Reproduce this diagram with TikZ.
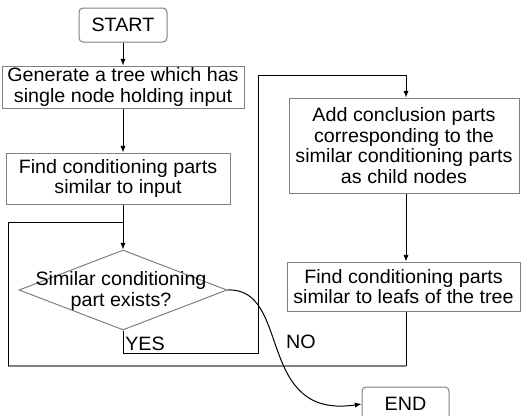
\documentclass[tikz,border=0pt]{standalone}
\usepackage{fontspec}
\setmainfont{Liberation Sans}[FakeStretch=1.02]
\usetikzlibrary{arrows.meta,shapes.geometric}
\begin{document}
\begin{tikzpicture}[x=0.75pt,y=-0.75pt,
  box/.style={draw=black!50,line width=0.75pt,align=center,inner sep=0pt,
    font=\fontsize{14.5pt}{15.4pt}\selectfont},
  term/.style={box,rounded corners=3pt},
  conn/.style={draw=black,line width=0.75pt},
  arr/.style={conn,-{Latex[length=5pt,width=4pt]}},
  lbl/.style={inner sep=0pt,font=\fontsize{14.5pt}{15.4pt}\selectfont}]
\useasboundingbox (0,0) rectangle (521,415);
\fill[white] (0,0) rectangle (521,415);
% nodes
\node[term,minimum width=66pt,minimum height=25.5pt] (start) at (123,25) {START};
\node[box,minimum width=181.5pt,minimum height=31.5pt] (gen) at (123,87)
  {Generate a tree which has\\single node holding input};
\node[box,minimum width=168pt,minimum height=38.25pt] (find) at (118,178.5)
  {Find conditioning parts\\similar to input};
\node[diamond,draw=black!50,line width=0.75pt,inner sep=0pt,minimum width=156pt,
  minimum height=60pt] (dec) at (123,290) {};
\node[lbl,align=center] (dectext) at (121,291) {Similar conditioning\\part exists?};
\node[box,minimum width=172.5pt,minimum height=71.25pt] (add) at (404,145.5)
  {Add conclusion parts\\corresponding to the\\similar conditioning parts\\as child nodes};
\node[box,minimum width=174.75pt,minimum height=36.75pt] (leafs) at (403.5,286.5)
  {Find conditioning parts\\similar to leafs of the tree};
\node[term,minimum width=65.25pt,minimum height=25.5pt] (end) at (405.5,404) {END};
\node[lbl] (yes) at (145,344) {YES};
\node[lbl] (no) at (301,342) {NO};
% helper coordinates
\coordinate (colL) at (123,0);
\coordinate (colR) at (406,0);
\coordinate (loopTop) at (8,222);
\coordinate (loopBot) at (8,366);
\coordinate (yesBot) at (123,353);
\coordinate (yesR) at (258,353);
\coordinate (yesTop) at (258,75);
% connectors
\draw[arr] (start.south -| colL) -- (gen.north -| colL);
\draw[arr] (gen.south -| colL) -- (find.north -| colL);
\draw[arr] (find.south -| colL) -- (dec.north);
\draw[conn] (dec.south) -- (yesBot) -- (yesR) -- (yesTop) -- (yesTop -| colR);
\draw[arr] (yesTop -| colR) -- (add.north -| colR);
\draw[arr] (add.south -| colR) -- (leafs.north -| colR);
\draw[conn] (leafs.south -| colR) -- (loopBot -| colR);
\draw[draw=black!50,line width=1.3pt] (loopBot -| colR) -- (loopBot);
\draw[conn] (loopBot) -- (loopTop) -- (loopTop -| colL);
\draw[arr] (dec.east) .. controls (292,287) and (255,420) .. (end.west);
\end{tikzpicture}
\end{document}
